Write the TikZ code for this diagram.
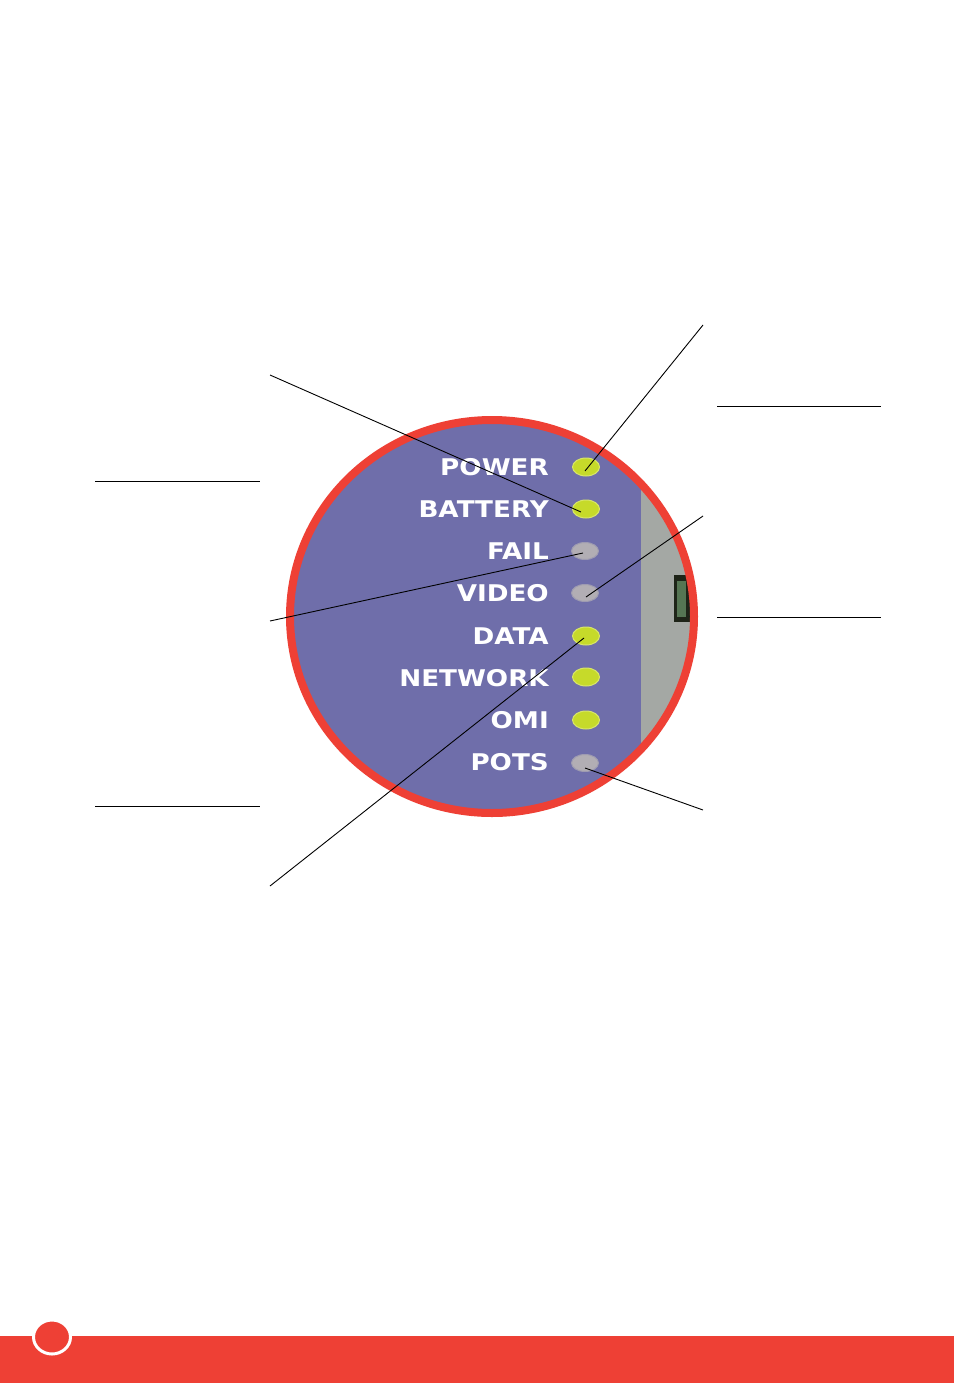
\documentclass[tikz,border=0pt]{standalone}
\usepackage{fontspec}
\setsansfont{DejaVu Sans}
\usetikzlibrary{shapes.geometric}
\definecolor{ringred}{HTML}{EE4035}
\definecolor{panelpurple}{HTML}{6F6EAA}
\definecolor{panelgray}{HTML}{A4A8A4}
\definecolor{ledgreen}{HTML}{C6DA2A}
\definecolor{ledgray}{HTML}{B2AEB4}
\definecolor{slotdark}{HTML}{1E2418}
\tikzset{
  ledlabel/.style={font=\sffamily\bfseries\fontsize{23}{23}\selectfont, text=white, anchor=east, inner sep=0pt, xscale=1.14},
  ledon/.style={ellipse, fill=ledgreen, minimum width=27pt, minimum height=18pt, inner sep=0pt, draw=ledgreen!70!white, line width=1pt},
  ledoff/.style={ellipse, fill=ledgray, minimum width=27pt, minimum height=17pt, inner sep=0pt, draw=ledgray!70!panelpurple, line width=1pt},
  leader/.style={draw=black, line width=0.9pt},
  rule/.style={draw=black, line width=0.8pt}
}
\begin{document}
\begin{tikzpicture}[x=1pt,y=-1pt]
\useasboundingbox (0,0) rectangle (954,1383);
\fill[white] (0,0) rectangle (954,1383);
% circle panel
\begin{scope}
  \clip (492,616.5) ellipse [x radius=202, y radius=196.5];
  \fill[panelpurple] (280,400) rectangle (641,830);
  \fill[panelgray] (641,400) rectangle (710,830);
  \fill[slotdark] (674,575) rectangle (691,622);
  \fill[slotdark!70!green!40!gray] (677,581) rectangle (686,617);
\end{scope}
\draw[ringred, line width=8pt] (492,616.5) ellipse [x radius=202, y radius=196.5];
% labels
\node[ledlabel] (lpower) at (549,467) {POWER};
\node[ledlabel] (lbattery) at (549,509) {BATTERY};
\node[ledlabel] (lfail) at (549,551) {FAIL};
\node[ledlabel] (lvideo) at (549,593) {VIDEO};
\node[ledlabel] (ldata) at (549,636) {DATA};
\node[ledlabel] (lnetwork) at (549,678) {NETWORK};
\node[ledlabel] (lomi) at (549,720) {OMI};
\node[ledlabel] (lpots) at (549,762) {POTS};
% LEDs
\node[ledon] (power) at (586,467) {};
\node[ledon] (battery) at (586,509) {};
\node[ledoff] (fail) at (585,551) {};
\node[ledoff] (video) at (585,593) {};
\node[ledon] (data) at (586,636) {};
\node[ledon] (network) at (586,677) {};
\node[ledon] (omi) at (586,720) {};
\node[ledoff] (pots) at (585,763) {};
% leader end points
\coordinate (cbattery) at (270,375);
\coordinate (cpower) at (703,325);
\coordinate (cfail) at (270,621);
\coordinate (cvideo) at (703,516);
\coordinate (cdata) at (270,886);
\coordinate (cpots) at (703,810);
\draw[leader] (cbattery) -- ([shift={(-5,3)}]battery.center);
\draw[leader] (cpower) -- ([shift={(-1,4)}]power.center);
\draw[leader] (cfail) -- ([shift={(-2,2)}]fail.center);
\draw[leader] (cvideo) -- ([shift={(1,4)}]video.center);
\draw[leader] (cdata) -- ([shift={(-2,2)}]data.center);
\draw[leader] (cpots) -- ([shift={(0,5)}]pots.center);
% rules
\coordinate (r1a) at (95,481); \coordinate (r1b) at (260,481);
\coordinate (r2a) at (95,806); \coordinate (r2b) at (260,806);
\coordinate (r3a) at (717,406); \coordinate (r3b) at (881,406);
\coordinate (r4a) at (717,617); \coordinate (r4b) at (881,617);
\draw[rule] (r1a) -- (r1b);
\draw[rule] (r2a) -- (r2b);
\draw[rule] (r3a) -- (r3b);
\draw[rule] (r4a) -- (r4b);
% bottom bar
\fill[ringred] (0,1336) rectangle (954,1383);
\node[ellipse, fill=ringred, draw=white, line width=3pt, minimum width=37pt, minimum height=34pt, inner sep=0pt] (pagedot) at (52,1337) {};
\end{tikzpicture}
\end{document}
